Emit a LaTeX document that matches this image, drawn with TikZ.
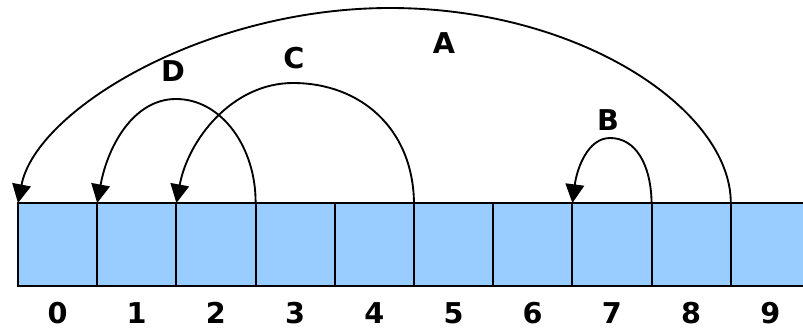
\documentclass[tikz,border=0pt]{standalone}
\usepackage{fontspec}
\setmainfont{DejaVu Sans}
\usetikzlibrary{arrows.meta}
\definecolor{cellblue}{RGB}{153,204,255}
\begin{document}
\begin{tikzpicture}[x=0.75pt,y=-0.75pt,
  cell/.style={fill=cellblue,minimum width=59.4pt,minimum height=62.25pt,inner sep=0pt,outer sep=0pt},
  border/.style={draw=black,line width=1.5pt},
  idx/.style={font=\fontsize{21.5}{25}\selectfont\bfseries,inner sep=0pt},
  lbl/.style={font=\fontsize{21.5}{25}\selectfont\bfseries,inner sep=0pt},
  jump/.style={draw=black,line width=1.4pt,-{Triangle[length=14pt,width=14pt]}}]
\useasboundingbox (0,0) rectangle (803,329);
\foreach \i in {0,...,9}{
  \node[cell] (c\i) at ({18+79.2*\i+39.6},244.5) {};
  \node[idx] (n\i) at ({57.5+79.2*\i},313) {\i};
}
\foreach \i in {0,...,9}{
  \draw[border] (c\i.north west) rectangle (c\i.south east);
}
% A
\draw[jump] (c9.north west) .. controls (731,110) and (580,8) .. (390,8)
  .. controls (205,8) and (36,110) .. (c0.north west);
% B
\draw[jump] (c8.north west) .. controls (651,165) and (636,138) .. (610,138)
  .. controls (588,138) and (577,168) .. (c7.north west);
% C
\draw[jump] (c5.north west) .. controls (413,128) and (360,83) .. (293,83)
  .. controls (232,83) and (188,140) .. (c2.north west);
% D
\draw[jump] (c3.north west) .. controls (256,148) and (222,99) .. (176,99)
  .. controls (134,99) and (108,145) .. (c1.north west);
\node[lbl] (la) at (444,43) {A};
\node[lbl] (lb) at (608,120) {B};
\node[lbl] (lc) at (294,58) {C};
\node[lbl] (ld) at (173,71) {D};
\end{tikzpicture}
\end{document}
